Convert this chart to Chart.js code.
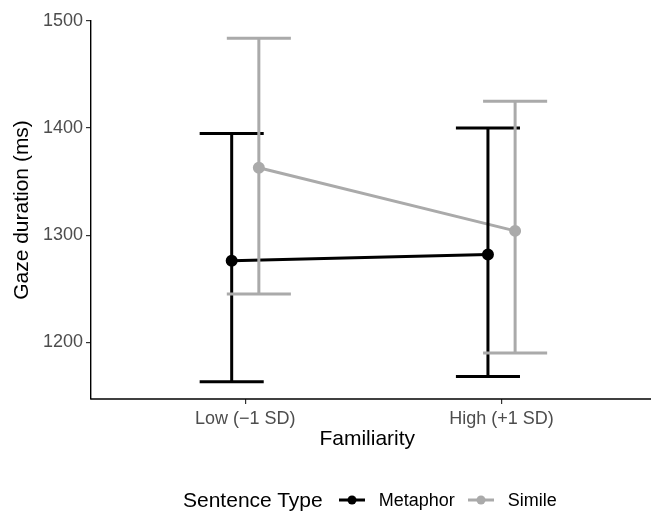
<!DOCTYPE html>
<html>
<head>
<meta charset="utf-8">
<script src="https://cdn.jsdelivr.net/npm/chart.js@4.4.1/dist/chart.umd.min.js"></script>
<style>
  html, body { margin: 0; padding: 0; background: #fff; overflow: hidden; }
  #wrap { position: relative; width: 651px; height: 513px; }
  #chart { display: block; }
  #legend {
    position: absolute; left: 183px; top: 486px; height: 28px;
    display: flex; align-items: center;
    font-family: "Liberation Sans", Arial, sans-serif; color: #000;
  }
  #legend .title { font-size: 21px; margin-right: 16px; }
  #legend .lab { font-size: 18px; margin-left: 14px; margin-right: 13px; }
  #legend canvas { display: block; }
</style>
</head>
<body>
<div id="wrap">
  <canvas id="chart" width="651" height="513"></canvas>
  <div id="legend"></div>
</div>
<script>
const categories = ["Low (\u22121 SD)", "High (+1 SD)"];
const seriesNames = ["Metaphor", "Simile"];
const seriesColors = ["#000000", "#aaaaaa"];
const metaphorMean = [1276, 1282];
const metaphorLower = [1163, 1168];
const metaphorUpper = [1395, 1400];
const simileMean = [1363, 1304];
const simileLower = [1245, 1190];
const simileUpper = [1484, 1425];
const yTicks = [1200, 1300, 1400, 1500];

const dodge = 0.053;
const capHalf = 0.125;
const font = "'Liberation Sans', Arial, sans-serif";

const series = [
  { name: seriesNames[0], color: seriesColors[0], mean: metaphorMean, lo: metaphorLower, hi: metaphorUpper, off: -dodge },
  { name: seriesNames[1], color: seriesColors[1], mean: simileMean, lo: simileLower, hi: simileUpper, off: dodge },
];

const errorBars = {
  id: "errorBars",
  afterDatasetsDraw(chart) {
    const { ctx, scales: { x, y } } = chart;
    ctx.save();
    ctx.lineWidth = 3;
    ctx.lineCap = "butt";
    series.forEach((s) => {
      ctx.strokeStyle = s.color;
      s.mean.forEach((m, i) => {
        const cx = i + 1 + s.off;
        const px = x.getPixelForValue(cx);
        const x0 = x.getPixelForValue(cx - capHalf);
        const x1 = x.getPixelForValue(cx + capHalf);
        const yl = y.getPixelForValue(s.lo[i]);
        const yh = y.getPixelForValue(s.hi[i]);
        ctx.beginPath();
        ctx.moveTo(px, yl); ctx.lineTo(px, yh);
        ctx.moveTo(x0, yl); ctx.lineTo(x1, yl);
        ctx.moveTo(x0, yh); ctx.lineTo(x1, yh);
        ctx.stroke();
      });
    });
    ctx.restore();
  },
  // x axis line runs to the right edge in the original
  afterDraw(chart) {
    const { ctx, chartArea } = chart;
    ctx.save();
    ctx.strokeStyle = "#000";
    ctx.lineWidth = 1.4;
    ctx.beginPath();
    ctx.moveTo(chartArea.left - 0.7, chartArea.bottom);
    ctx.lineTo(chart.width, chartArea.bottom);
    ctx.stroke();
    ctx.restore();
  },
};

new Chart(document.getElementById("chart"), {
  type: "line",
  data: {
    datasets: series.map((s) => ({
      label: s.name,
      data: s.mean.map((v, i) => ({ x: i + 1 + s.off, y: v })),
      borderColor: s.color,
      backgroundColor: s.color,
      borderWidth: 3,
      pointRadius: 4.5,
      pointHoverRadius: 4.5,
      tension: 0,
    })),
  },
  options: {
    responsive: false,
    animation: false,
    events: [],
    layout: { padding: { top: 21, right: 0, bottom: 54, left: 0 } },
    plugins: { legend: { display: false }, tooltip: { enabled: false } },
    scales: {
      x: {
        type: "linear",
        min: 0.398,
        max: 2.554,
        afterBuildTicks: (sc) => { sc.ticks = categories.map((c, i) => ({ value: i + 1 })); },
        afterFit: (sc) => { sc.height = 60; },
        ticks: {
          callback: (v) => categories[v - 1],
          color: "#4d4d4d",
          font: { family: font, size: 18 },
          padding: 4,
          maxRotation: 0,
          autoSkip: false,
        },
        grid: { display: true, drawOnChartArea: false, drawTicks: true, tickLength: 5, color: "#333", lineWidth: 1.2 },
        border: { display: false },
        title: { display: true, text: "Familiarity", color: "#000", font: { family: font, size: 21 }, padding: { top: 0, bottom: 7 } },
      },
      y: {
        type: "linear",
        min: 1147,
        max: 1500,
        afterBuildTicks: (sc) => { sc.ticks = yTicks.map((v) => ({ value: v })); },
        afterFit: (sc) => { sc.width = 91; },
        ticks: {
          callback: (v) => String(v),
          color: "#4d4d4d",
          font: { family: font, size: 18 },
          padding: 3,
        },
        grid: { display: true, drawOnChartArea: false, drawTicks: true, tickLength: 5, color: "#333", lineWidth: 1.2 },
        border: { display: true, color: "#000", width: 1.4 },
        title: { display: true, text: "Gaze duration (ms)", color: "#000", font: { family: font, size: 21 }, padding: { top: 10, bottom: 0 } },
      },
    },
  },
  plugins: [errorBars],
});

// legend in the ggplot bottom style
const legend = document.getElementById("legend");
const t = document.createElement("span");
t.className = "title";
t.textContent = "Sentence Type";
legend.appendChild(t);
series.forEach((s) => {
  const key = document.createElement("canvas");
  key.width = 26; key.height = 14;
  const k = key.getContext("2d");
  k.strokeStyle = s.color; k.fillStyle = s.color; k.lineWidth = 3;
  k.beginPath(); k.moveTo(0, 7); k.lineTo(26, 7); k.stroke();
  k.beginPath(); k.arc(13, 7, 4.5, 0, Math.PI * 2); k.fill();
  legend.appendChild(key);
  const lab = document.createElement("span");
  lab.className = "lab";
  lab.textContent = s.name;
  legend.appendChild(lab);
});
</script>
</body>
</html>
